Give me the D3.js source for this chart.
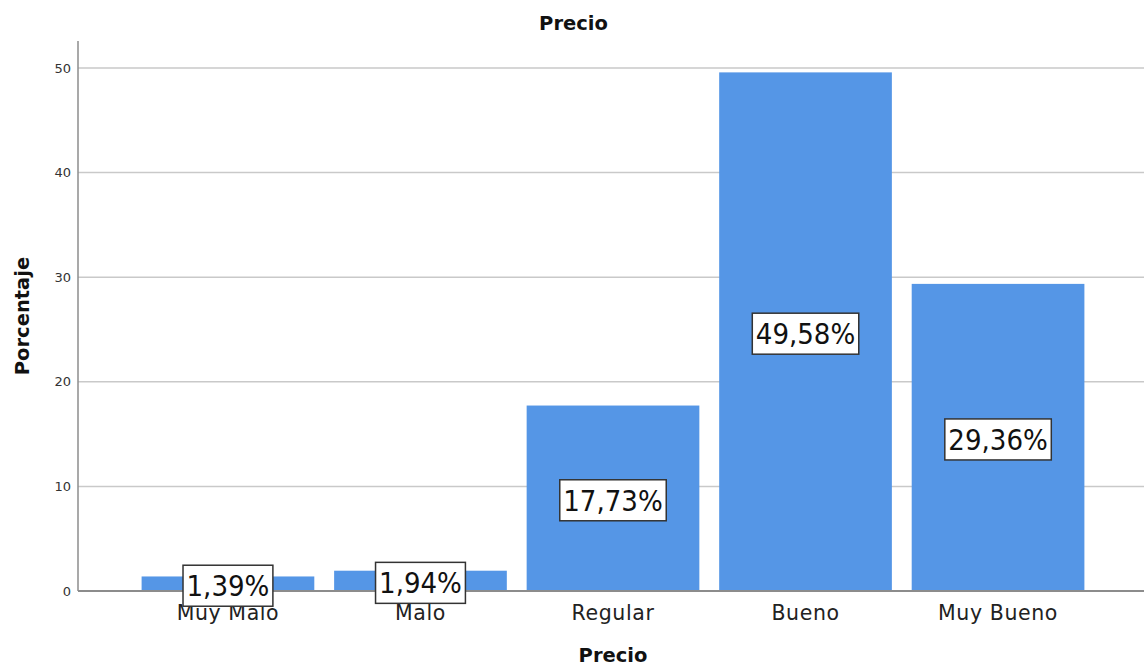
<!DOCTYPE html>
<html>
<head>
<meta charset="utf-8">
<script src="https://cdn.jsdelivr.net/npm/d3@7"></script>
<style>
  html, body { margin: 0; padding: 0; background: #fff; }
  svg { display: block; }
</style>
</head>
<body>
<svg id="chart" width="1144" height="666"></svg>
<script>
// Percentage distribution of "Precio" ratings
const categories = ["Muy Malo", "Malo", "Regular", "Bueno", "Muy Bueno"];
const percentages = [1.39, 1.94, 17.73, 49.58, 29.36];
const yTicks = [0, 10, 20, 30, 40, 50];

const W = 1144, H = 666;
const plot = { left: 78, right: 1144, top: 41, bottom: 591 };

const svg = d3.select("#chart");

const x = d3.scaleBand()
  .domain(categories)
  .range([80, 1146])
  .paddingInner(0.103)
  .paddingOuter(0.32);

const y = d3.scaleLinear()
  .domain([0, 52.58])
  .range([plot.bottom, plot.top]);

// horizontal gridlines
svg.append("g")
  .selectAll("line")
  .data(yTicks.filter(d => d > 0))
  .join("line")
  .attr("x1", plot.left)
  .attr("x2", plot.right)
  .attr("y1", d => y(d))
  .attr("y2", d => y(d))
  .attr("stroke", "#c9c9c9")
  .attr("stroke-width", 1.5);

// bars
svg.append("g")
  .selectAll("rect")
  .data(percentages)
  .join("rect")
  .attr("x", (d, i) => x(categories[i]))
  .attr("width", x.bandwidth())
  .attr("y", d => y(d))
  .attr("height", d => y(0) - y(d))
  .attr("fill", "#5596e6");

// y axis
const yAxis = svg.append("g")
  .attr("transform", `translate(${plot.left},0)`)
  .call(d3.axisLeft(y).tickValues(yTicks).tickSize(0).tickPadding(7).tickFormat(d3.format("d")));
yAxis.select(".domain").remove();
yAxis.selectAll("text")
  .attr("font-family", "DejaVu Sans, sans-serif")
  .attr("font-size", 13)
  .attr("fill", "#333");

svg.append("line")
  .attr("x1", plot.left).attr("x2", plot.left)
  .attr("y1", plot.top).attr("y2", plot.bottom)
  .attr("stroke", "#8c8c8c").attr("stroke-width", 1.5);

// x axis baseline
svg.append("line")
  .attr("x1", plot.left).attr("x2", plot.right)
  .attr("y1", plot.bottom).attr("y2", plot.bottom)
  .attr("stroke", "#8c8c8c").attr("stroke-width", 2);

// category labels
const xAxis = svg.append("g")
  .attr("transform", `translate(0,${plot.bottom})`)
  .call(d3.axisBottom(x).tickSize(0).tickPadding(0));
xAxis.select(".domain").remove();
xAxis.selectAll("text")
  .attr("dy", null)
  .attr("y", 29)
  .attr("font-family", "DejaVu Sans, sans-serif")
  .attr("font-size", 20.5)
  .attr("letter-spacing", 0.6)
  .attr("fill", "#222");

// value labels in boxes, centred at half the bar height
const labels = svg.append("g")
  .selectAll("g")
  .data(percentages)
  .join("g")
  .attr("transform", (d, i) => `translate(${x(categories[i]) + x.bandwidth() / 2},${y(d / 2) + 2})`);

const fmt = d => d.toFixed(2).replace(".", ",") + "%";

labels.append("text")
  .attr("text-anchor", "middle")
  .attr("dy", "0.36em")
  .attr("font-family", "DejaVu Sans Condensed, DejaVu Sans, sans-serif")
  .attr("font-size", 29)
  .attr("fill", "#111")
  .text(fmt);

labels.each(function() {
  const g = d3.select(this);
  const bb = g.select("text").node().getBBox();
  const padX = 3.5;
  g.insert("rect", "text")
    .attr("x", bb.x - padX)
    .attr("y", -20.5)
    .attr("width", bb.width + padX * 2)
    .attr("height", 41)
    .attr("fill", "#fff")
    .attr("stroke", "#333")
    .attr("stroke-width", 1.5);
});

// titles
svg.append("text")
  .attr("x", 573.5).attr("y", 30)
  .attr("text-anchor", "middle")
  .attr("font-family", "DejaVu Sans, sans-serif")
  .attr("font-weight", "bold")
  .attr("font-size", 19.5)
  .attr("fill", "#111")
  .text("Precio");

svg.append("text")
  .attr("x", 613).attr("y", 662)
  .attr("text-anchor", "middle")
  .attr("font-family", "DejaVu Sans, sans-serif")
  .attr("font-weight", "bold")
  .attr("font-size", 19.5)
  .attr("fill", "#111")
  .text("Precio");

svg.append("text")
  .attr("transform", "translate(29,316) rotate(-90)")
  .attr("text-anchor", "middle")
  .attr("font-family", "DejaVu Sans, sans-serif")
  .attr("font-weight", "bold")
  .attr("font-size", 19.5)
  .attr("fill", "#111")
  .text("Porcentaje");
</script>
</body>
</html>
